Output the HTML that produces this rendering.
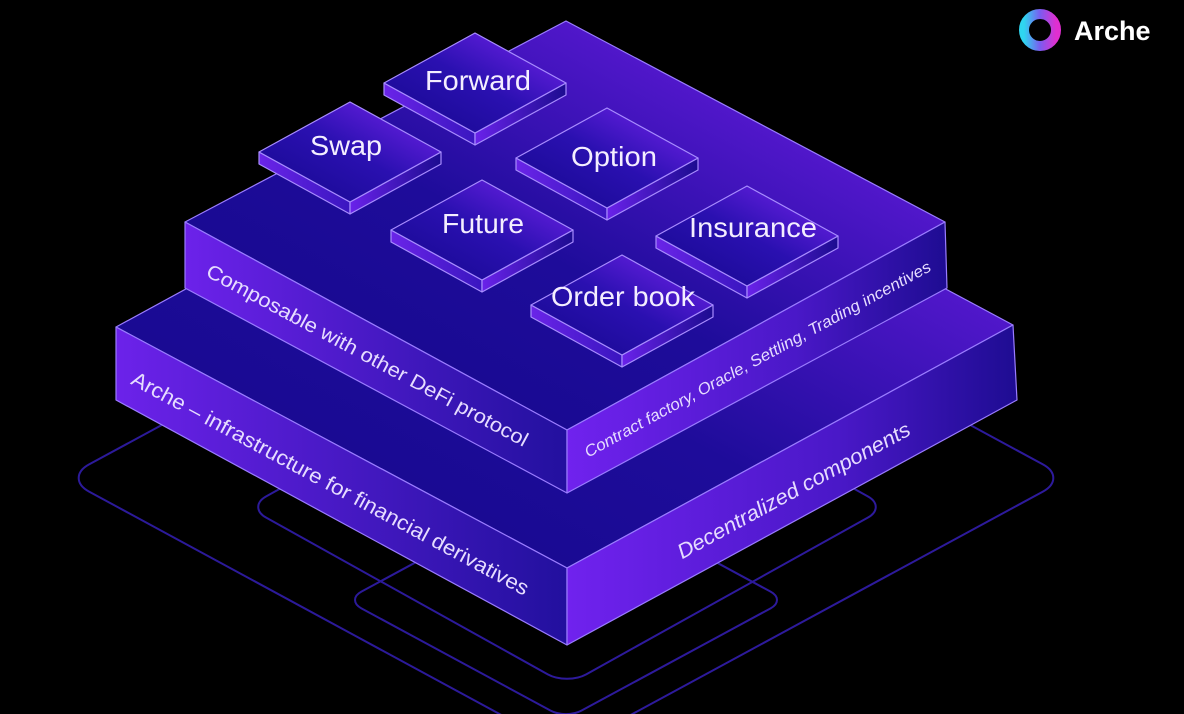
<!DOCTYPE html>
<html><head><meta charset="utf-8"><style>
html,body{margin:0;padding:0;background:#000;width:1184px;height:714px;overflow:hidden;}
svg{display:block;overflow:hidden;}
text{font-family:"Liberation Sans",sans-serif;}
</style></head><body>
<svg width="1184" height="714" viewBox="0 0 1184 714" xmlns="http://www.w3.org/2000/svg">
<defs>
<clipPath id="cp"><rect width="1184" height="714"/></clipPath>
<linearGradient id="ol" gradientUnits="userSpaceOnUse" x1="70" y1="0" x2="1060" y2="0"><stop offset="0" stop-color="#2c1a9a"/><stop offset="0.5" stop-color="#4220b8"/><stop offset="1" stop-color="#7a34e6"/></linearGradient>
<linearGradient id="topF" x1="0" y1="1" x2="1" y2="0"><stop offset="0" stop-color="#14088a"/><stop offset="0.45" stop-color="#1e0c9a"/><stop offset="1" stop-color="#7a20f2"/></linearGradient>
<linearGradient id="leftF" x1="0" y1="0" x2="1" y2="0"><stop offset="0" stop-color="#6c22ea"/><stop offset="1" stop-color="#22109e"/></linearGradient>
<linearGradient id="rightF" x1="0" y1="0" x2="1" y2="0"><stop offset="0" stop-color="#7022ee"/><stop offset="0.6" stop-color="#4a18c8"/><stop offset="1" stop-color="#1e0c92"/></linearGradient>
<linearGradient id="tTop" x1="0" y1="1" x2="1" y2="0"><stop offset="0" stop-color="#14088c"/><stop offset="0.5" stop-color="#2a10b0"/><stop offset="1" stop-color="#7a24f0"/></linearGradient>
<linearGradient id="tL" x1="0" y1="0" x2="1" y2="0"><stop offset="0" stop-color="#6a24e8"/><stop offset="1" stop-color="#3a16c0"/></linearGradient>
<linearGradient id="tR" x1="0" y1="0" x2="1" y2="0"><stop offset="0" stop-color="#6a22ea"/><stop offset="1" stop-color="#1c0c90"/></linearGradient>
<linearGradient id="logo" x1="0" y1="0" x2="1" y2="0"><stop offset="0" stop-color="#2fd6f0"/><stop offset="0.5" stop-color="#7a5cf0"/><stop offset="1" stop-color="#e02fd0"/></linearGradient>
</defs>
<rect width="1184" height="714" fill="#000"/>

<!-- outlines -->
<g fill="none" stroke="url(#ol)" stroke-width="2" clip-path="url(#cp)">
<rect x="0" y="0" width="100" height="100" rx="5" transform="matrix(5.02,2.72,-5.02,2.72,566,206)" vector-effect="non-scaling-stroke"/>
<rect x="0" y="0" width="100" height="100" rx="6" transform="matrix(3.2,1.78,-3.2,1.78,567,329)" vector-effect="non-scaling-stroke"/>
<rect x="0" y="0" width="100" height="100" rx="7" transform="matrix(2.2,1.19,-2.2,1.19,566,481)" vector-effect="non-scaling-stroke"/>
</g>

<!-- lower slab -->
<g stroke="#9a7cff" stroke-width="1.2" stroke-linejoin="round">
<polygon points="116,327 562,84 1013,325 567,568" fill="url(#topF)"/>
<polygon points="116,327 567,568 567,645 116,400" fill="url(#leftF)"/>
<polygon points="567,568 1013,325 1017,400 567,645" fill="url(#rightF)"/>
</g>
<!-- upper slab -->
<g stroke="#9a7cff" stroke-width="1.2" stroke-linejoin="round">
<polygon points="185,222 566,21 945,222 567,430" fill="url(#topF)"/>
<polygon points="185,222 567,430 567,493 185,288" fill="url(#leftF)"/>
<polygon points="567,430 945,222 947,288 567,493" fill="url(#rightF)"/>
</g>

<!-- side texts -->
<g fill="#e6dcff" text-anchor="middle" dominant-baseline="central">
<text x="367" y="356" font-size="20" transform="rotate(28.3 367 356)" textLength="362" lengthAdjust="spacingAndGlyphs">Composable with other DeFi protocol</text>
<text x="330" y="484" font-size="21" transform="rotate(28.3 330 484)" textLength="448" lengthAdjust="spacingAndGlyphs">Arche – infrastructure for financial derivatives</text>
<text x="758" y="360" font-size="16" font-style="italic" transform="rotate(-28.6 758 360)" textLength="392" lengthAdjust="spacingAndGlyphs">Contract factory, Oracle, Settling, Trading incentives</text>
<text x="794" y="491" font-size="21" font-style="italic" transform="rotate(-28.6 794 491)" textLength="262" lengthAdjust="spacingAndGlyphs">Decentralized components</text>
</g>

<!-- tiles -->
<g stroke="#a88cff" stroke-width="1.2" stroke-linejoin="round">
<polygon points="384,83 475,133 475,145 384,95" fill="url(#tL)"/><polygon points="475,133 566,83 566,95 475,145" fill="url(#tR)"/><polygon points="384,83 475,33 566,83 475,133" fill="url(#tTop)"/>
<polygon points="259,152 350,202 350,214 259,164" fill="url(#tL)"/><polygon points="350,202 441,152 441,164 350,214" fill="url(#tR)"/><polygon points="259,152 350,102 441,152 350,202" fill="url(#tTop)"/>
<polygon points="516,158 607,208 607,220 516,170" fill="url(#tL)"/><polygon points="607,208 698,158 698,170 607,220" fill="url(#tR)"/><polygon points="516,158 607,108 698,158 607,208" fill="url(#tTop)"/>
<polygon points="391,230 482,280 482,292 391,242" fill="url(#tL)"/><polygon points="482,280 573,230 573,242 482,292" fill="url(#tR)"/><polygon points="391,230 482,180 573,230 482,280" fill="url(#tTop)"/>
<polygon points="656,236 747,286 747,298 656,248" fill="url(#tL)"/><polygon points="747,286 838,236 838,248 747,298" fill="url(#tR)"/><polygon points="656,236 747,186 838,236 747,286" fill="url(#tTop)"/>
<polygon points="531,305 622,355 622,367 531,317" fill="url(#tL)"/><polygon points="622,355 713,305 713,317 622,367" fill="url(#tR)"/><polygon points="531,305 622,255 713,305 622,355" fill="url(#tTop)"/>
</g>
<g fill="#f4eeff" font-size="28" text-anchor="middle">
<text x="478" y="90" textLength="106" lengthAdjust="spacingAndGlyphs">Forward</text>
<text x="346" y="155" textLength="72" lengthAdjust="spacingAndGlyphs">Swap</text>
<text x="614" y="166" textLength="86" lengthAdjust="spacingAndGlyphs">Option</text>
<text x="483" y="233" textLength="82" lengthAdjust="spacingAndGlyphs">Future</text>
<text x="753" y="237" textLength="128" lengthAdjust="spacingAndGlyphs">Insurance</text>
<text x="623" y="306" textLength="144" lengthAdjust="spacingAndGlyphs">Order book</text>
</g>

<!-- logo -->
<circle cx="1040" cy="30" r="16" fill="none" stroke="url(#logo)" stroke-width="10"/>
<ellipse cx="1040" cy="30" rx="5" ry="11" fill="#000" transform="rotate(20 1040 30)"/>
<text x="1074" y="40" font-size="27" font-weight="bold" fill="#fff">Arche</text>
</svg>
</body></html>
